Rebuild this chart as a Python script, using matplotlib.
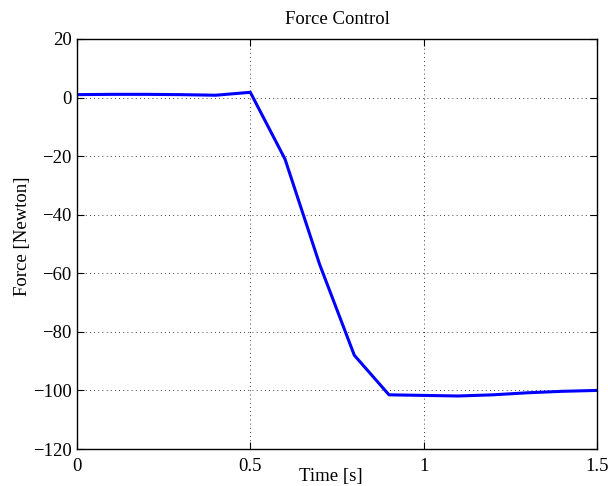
import numpy as np
import matplotlib
matplotlib.use("Agg")
import matplotlib.pyplot as plt

plt.rcParams["font.family"] = ["Liberation Serif", "DejaVu Serif"]

time_s = [0.0, 0.1, 0.2, 0.3, 0.4, 0.5, 0.6, 0.7, 0.8, 0.9, 1.0, 1.1, 1.2, 1.3, 1.4, 1.5]
force_n = [1.0, 1.1, 1.1, 1.0, 0.8, 1.8, -21.0, -57.0, -88.0, -101.5, -101.7, -101.9, -101.5, -100.8, -100.3, -100.0]

x_ticks = [0, 0.5, 1, 1.5]
x_tick_labels = ["0", "0.5", "1", "1.5"]
y_ticks = [-120, -100, -80, -60, -40, -20, 0, 20]

fig = plt.figure(figsize=(6.08, 4.86), dpi=100)
ax = fig.add_axes([77 / 608, 1 - 449 / 486, 520 / 608, 410 / 486])

ax.plot(time_s, force_n, color="#0000ff", linewidth=2.2)

ax.set_xlim(0, 1.5)
ax.set_ylim(-120, 20)
ax.set_xticks(x_ticks)
ax.set_xticklabels(x_tick_labels)
ax.set_yticks(y_ticks)
ax.set_yticklabels([str(v).replace("-", "\u2212") for v in y_ticks])

ax.grid(True, color="black", linestyle=(0, (1, 4)), linewidth=0.6)
ax.tick_params(direction="in", top=True, right=True, length=5, labelsize=13.5)
ax.tick_params(axis="x", pad=6.5)
ax.tick_params(axis="y", pad=4)
for s in ax.spines.values():
    s.set_linewidth(1.0)

ax.set_title("Force Control", fontsize=13.5, pad=11)
ax.set_xlabel("Time [s]", fontsize=13.5)
ax.set_ylabel("Force [Newton]", fontsize=13.5)
# MATLAB puts the labels a bit off centre
ax.xaxis.set_label_coords(0.488, -0.046)
ax.yaxis.set_label_coords(-0.088, 0.52)

fig.savefig("out.png", dpi=100)
